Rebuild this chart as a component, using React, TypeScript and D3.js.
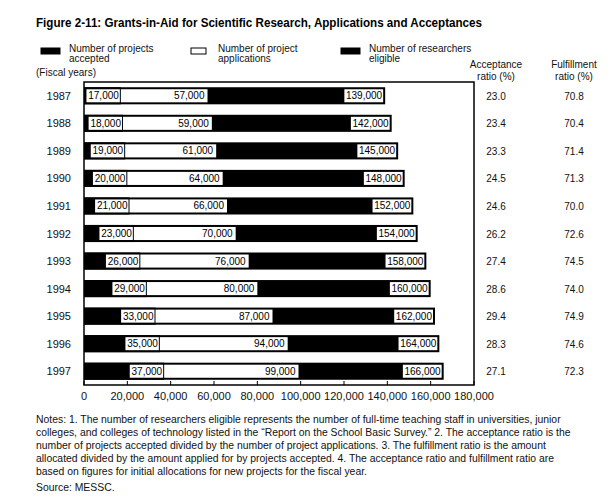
import React from "react";
import * as d3 from "d3";

const years = ["1987", "1988", "1989", "1990", "1991", "1992", "1993", "1994", "1995", "1996", "1997"];
const accepted = [17000, 18000, 19000, 20000, 21000, 23000, 26000, 29000, 33000, 35000, 37000];
const applications = [57000, 59000, 61000, 64000, 66000, 70000, 76000, 80000, 87000, 94000, 99000];
const researchers = [139000, 142000, 145000, 148000, 152000, 154000, 158000, 160000, 162000, 164000, 166000];
const acceptanceRatio = ["23.0", "23.4", "23.3", "24.5", "24.6", "26.2", "27.4", "28.6", "29.4", "28.3", "27.1"];
const fulfillmentRatio = ["70.8", "70.4", "71.4", "71.3", "70.0", "72.6", "74.5", "74.0", "74.9", "74.6", "72.3"];
const xTicks = [0, 20000, 40000, 60000, 80000, 100000, 120000, 140000, 160000, 180000];

const title = "Figure 2-11: Grants-in-Aid for Scientific Research, Applications and Acceptances";
const legendItems = [
  { lines: ["Number of projects", "accepted"], fill: "#000" },
  { lines: ["Number of project", "applications"], fill: "#fff" },
  { lines: ["Number of researchers", "eligible"], fill: "#000" },
];
const notes = [
  "Notes: 1. The number of researchers eligible represents the number of full-time teaching staff in universities, junior",
  "colleges, and colleges of technology listed in the \u201CReport on the School Basic Survey.\u201D 2. The acceptance ratio is the",
  "number of projects accepted divided by the number of project applications. 3. The fulfillment ratio is the amount",
  "allocated divided by the amount applied for by projects accepted. 4. The acceptance ratio and fulfillment ratio are",
  "based on figures for initial allocations for new projects for the fiscal year.",
];
const source = "Source: MESSC.";

const FONT = "'Liberation Sans', Arial, Helvetica, sans-serif";

export default function App() {
  const W = 615, H = 499;
  const left = 84, right = 474, top = 82, bottom = 385;
  const x = d3.scaleLinear().domain([0, 180000]).range([left, right]);
  const y = d3.scaleBand<string>().domain(years).range([top, bottom]).paddingInner(0.38).paddingOuter(0.19);
  const bh = y.bandwidth();
  const fmt = d3.format(",");
  const accX = 496, fulX = 574;
  const legendX = [41, 191, 341];

  return (
    <svg width={W} height={H} style={{ position: "absolute", left: 0, top: 0, background: "#fff" }} fontFamily={FONT}>
      <rect x={0} y={0} width={W} height={H} fill="#fff" />
      <text x={36} y={27} fontSize={12} fontWeight="bold" fill="#000" textLength={446} lengthAdjust="spacingAndGlyphs">{title}</text>

      {legendItems.map((it, i) => (
        <g key={i}>
          <rect x={legendX[i]} y={48} width={i === 1 ? 15 : 19} height={6} fill={it.fill} stroke="#000" strokeWidth={1} />
          {it.lines.map((l, j) => (
            <text key={j} x={legendX[i] + (i === 1 ? 27 : 28)} y={52 + j * 10} fontSize={10} fill="#111">{l}</text>
          ))}
        </g>
      ))}

      <text x={36} y={76} fontSize={10} fill="#111">(Fiscal years)</text>
      <text x={accX} y={68} fontSize={10} textAnchor="middle" fill="#111">Acceptance</text>
      <text x={accX} y={80} fontSize={10} textAnchor="middle" fill="#111">ratio (%)</text>
      <text x={fulX} y={68} fontSize={10} textAnchor="middle" fill="#111">Fulfillment</text>
      <text x={fulX} y={80} fontSize={10} textAnchor="middle" fill="#111">ratio (%)</text>

      <rect x={left} y={top} width={right - left} height={bottom - top} fill="#fff" stroke="#000" strokeWidth={1.5} />

      {years.map((yr, i) => {
        const y0 = y(yr)!;
        const cy = y0 + bh / 2;
        const xa = x(accepted[i]);
        const xp = x(applications[i]);
        const xr = x(researchers[i]);
        const accLabel = fmt(accepted[i]);
        const resLabel = fmt(researchers[i]);
        const accW = accLabel.length * 5.4;
        const resW = resLabel.length * 5.4;
        return (
          <g key={yr}>
            <rect x={x(0)} y={y0} width={xr - x(0)} height={bh} fill="#000" />
            <rect x={x(0)} y={y0 + 2} width={xp - x(0)} height={bh - 4} fill="#fff" />
            <rect x={x(0)} y={y0} width={xa - x(0)} height={bh} fill="#000" />
            <rect x={xa - accW - 2} y={cy - 6.5} width={accW + 1} height={13} fill="#fff" />
            <text x={xa - 2} y={cy + 3.5} fontSize={10} textAnchor="end" fill="#000">{accLabel}</text>
            <text x={xp - 3} y={cy + 3.5} fontSize={10} textAnchor="end" fill="#000">{fmt(applications[i])}</text>
            <rect x={xr - resW - 3} y={cy - 6.5} width={resW + 1} height={13} fill="#fff" />
            <text x={xr - 3} y={cy + 3.5} fontSize={10} textAnchor="end" fill="#000">{resLabel}</text>
            <text x={71} y={cy + 4} fontSize={11} textAnchor="end" fill="#111">{yr}</text>
            <text x={accX} y={cy + 4} fontSize={10} textAnchor="middle" fill="#111">{acceptanceRatio[i]}</text>
            <text x={fulX} y={cy + 4} fontSize={10} textAnchor="middle" fill="#111">{fulfillmentRatio[i]}</text>
          </g>
        );
      })}

      {xTicks.map((t) => (
        <g key={t}>
          <line x1={x(t)} x2={x(t)} y1={bottom} y2={bottom - 4} stroke="#000" strokeWidth={1} />
          <text x={x(t)} y={400} fontSize={11} textAnchor="middle" fill="#111">{fmt(t)}</text>
        </g>
      ))}

      {notes.map((l, i) => (
        <text key={i} x={36} y={423 + i * 13} fontSize={10.4} fill="#111">{l}</text>
      ))}
      <text x={36} y={491} fontSize={10.4} fill="#111">{source}</text>
    </svg>
  );
}
